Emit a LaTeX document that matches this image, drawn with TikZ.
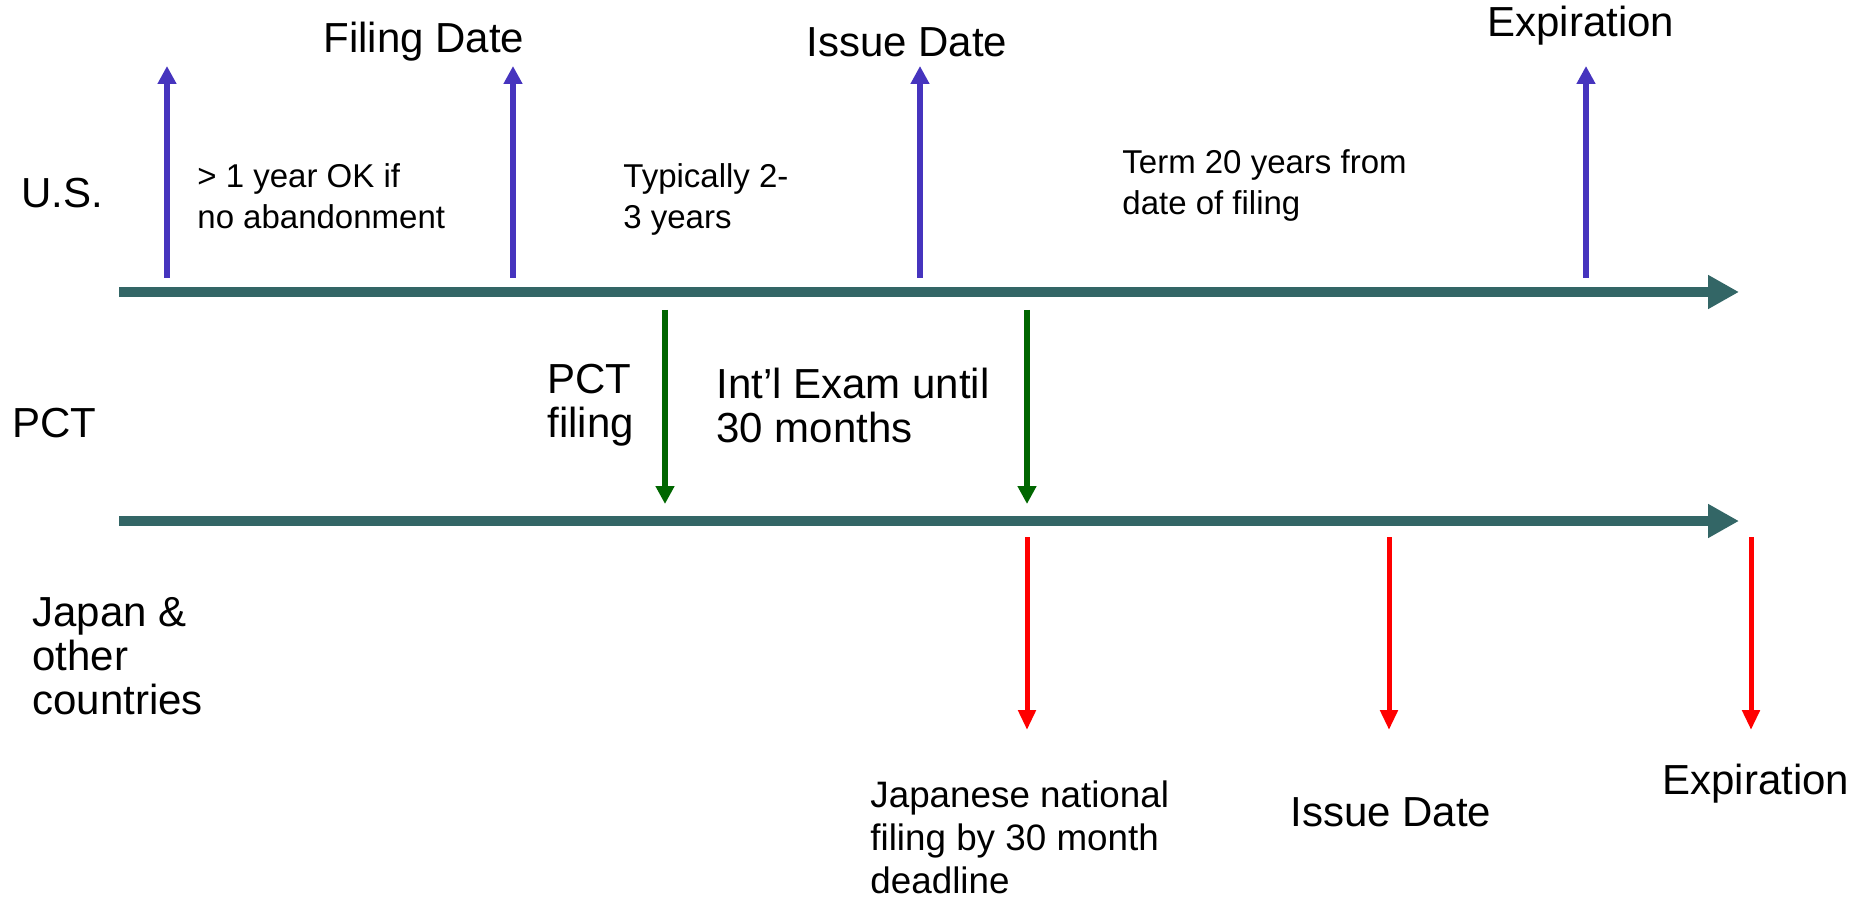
\documentclass[tikz,border=0pt]{standalone}
\usepackage{fontspec}
\setmainfont{Liberation Sans}
\usetikzlibrary{arrows.meta}
\definecolor{axisc}{RGB}{51,102,102}
\definecolor{usc}{RGB}{70,52,190}
\definecolor{pctc}{RGB}{0,102,0}
\definecolor{jpc}{RGB}{255,0,0}
\tikzset{
  axisline/.style={draw=axisc, line width=5pt, -{Triangle[width=16pt,length=15.5pt]}},
  usarrow/.style={draw=usc, line width=3pt, -{Triangle[width=9pt,length=9pt]}},
  pctarrow/.style={draw=pctc, line width=3pt, -{Triangle[width=9pt,length=9pt]}},
  jparrow/.style={draw=jpc, line width=2.5pt, -{Triangle[width=8.5pt,length=10pt]}},
  big/.style={inner sep=0pt, anchor=west, align=left, font=\fontsize{21}{22}\selectfont},
  small/.style={inner sep=0pt, anchor=west, align=left, font=\fontsize{16.5}{20.5}\selectfont},
  medium/.style={inner sep=0pt, anchor=west, align=left, font=\fontsize{18.4}{21.5}\selectfont},
}
\begin{document}
\begin{tikzpicture}[x=0.5pt,y=-0.5pt]
\useasboundingbox (0,0) rectangle (1868,898);
% axes
\coordinate (a1s) at (119,292); \coordinate (a1e) at (1739,292);
\coordinate (a2s) at (119,521); \coordinate (a2e) at (1739,521);
\draw[axisline] (a1s) -- (a1e);
\draw[axisline] (a2s) -- (a2e);
% US arrows
\foreach \n/\x in {u1/167,u2/513,u3/920,u4/1586}{
  \coordinate (\n b) at (\x,278); \coordinate (\n t) at (\x,66);
  \draw[usarrow] (\n b) -- (\n t);
}
% PCT arrows
\foreach \n/\x in {p1/665,p2/1027}{
  \coordinate (\n t) at (\x,310); \coordinate (\n b) at (\x,504);
  \draw[pctarrow] (\n t) -- (\n b);
}
% Japan arrows
\foreach \n/\x in {j1/1027,j2/1389,j3/1751}{
  \coordinate (\n t) at (\x,537); \coordinate (\n b) at (\x,730);
  \draw[jparrow] (\n t) -- (\n b);
}
% labels
\node[big] (us) at (21,193) {U.S.};
\node[big] (fd) at (323,42) {Filing Date};
\node[big] (id1) at (806,42) {Issue Date};
\node[big] (ex1) at (1487,26) {Expiration};
\node[small] (oneyr) at (197,196) {> 1 year OK if\\no abandonment};
\node[small] (typ) at (623,199) {Typically 2-\\3 years};
\node[small] (term) at (1122,185) {Term 20 years from\\date of filing};
\node[big] (pct) at (12,423) {PCT};
\node[big] (pctf) at (547,405) {PCT\\filing};
\node[big] (intl) at (716,405) {Int’l Exam until\\30 months};
\node[big] (jp) at (32,656) {Japan \&\\other\\countries};
\node[medium] (jnf) at (870,837) {Japanese national\\filing by 30 month\\deadline};
\node[big] (id2) at (1290,812) {Issue Date};
\node[big] (ex2) at (1662,784) {Expiration};
\end{tikzpicture}
\end{document}
